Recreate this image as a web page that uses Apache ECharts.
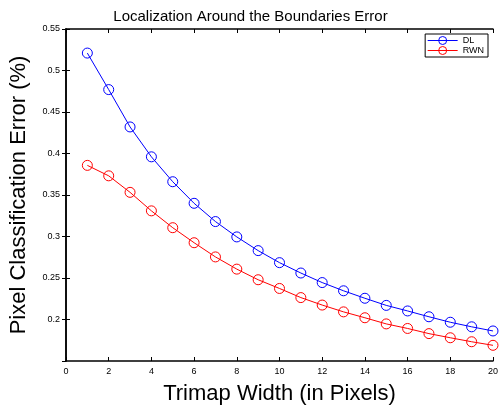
<!DOCTYPE html>
<html>
<head>
<meta charset="utf-8">
<script src="https://cdn.jsdelivr.net/npm/echarts@6/dist/echarts.min.js"></script>
<style>html,body{margin:0;padding:0;background:#fff}#c{width:501px;height:410px}</style>
</head>
<body>
<div id="c"></div>
<script>
var trimapWidths = [1,2,3,4,5,6,7,8,9,10,11,12,13,14,15,16,17,18,19,20];
var dlValues = [0.521,0.477,0.432,0.396,0.366,0.340,0.318,0.2995,0.283,0.2685,0.256,0.2445,0.2346,0.2256,0.217,0.2103,0.2033,0.1967,0.1912,0.1862];
var rwnValues = [0.3857,0.3731,0.3532,0.3309,0.3106,0.2925,0.2754,0.2607,0.2479,0.2374,0.2264,0.2174,0.2092,0.2021,0.1947,0.1892,0.183,0.178,0.1732,0.1689];
var seriesNames = ['DL','RWN'];
var titleText = 'Localization Around the Boundaries Error';
var xTitle = 'Trimap Width (in Pixels)';
var yTitle = 'Pixel Classification Error (%)';

function pairs(xs, ys){ return xs.map(function(x,i){ return [x, ys[i]]; }); }

var font = 'Liberation Sans, Arial, Helvetica, sans-serif';
var chart = echarts.init(document.getElementById('c'));
chart.setOption({
  animation: false,
  backgroundColor: '#fff',
  title: { text: titleText, left: 'center', top: 4, textStyle: { fontFamily: font, fontSize: 15, fontWeight: 'normal', color: '#000' } },
  grid: { left: 62, right: 5, top: 29, bottom: 39 },
  legend: {
    data: seriesNames, orient: 'vertical', right: 13, top: 34,
    borderColor: '#000', borderWidth: 1, padding: [2, 4, 2, 2], itemGap: 1,
    itemWidth: 30, itemHeight: 10,
    lineStyle: { width: 1 }, itemStyle: { borderWidth: 1 },
    textStyle: { fontFamily: font, fontSize: 9, color: '#000' }
  },
  xAxis: [{
    type: 'value', min: 0, max: 20, interval: 2,
    name: xTitle, nameLocation: 'middle', nameGap: 22,
    nameTextStyle: { fontFamily: font, fontSize: 22, color: '#000' },
    axisLine: { show: true, lineStyle: { color: '#000', width: 1.5 } },
    axisTick: { show: true, inside: true, length: 4, lineStyle: { color: '#000' } },
    axisLabel: { fontFamily: font, fontSize: 9, color: '#000', margin: 6 },
    splitLine: { show: false }
  }, {
    type: 'value', min: 0, max: 20, interval: 2, position: 'top',
    axisLine: { show: true, lineStyle: { color: '#000', width: 1.5 } },
    axisTick: { show: true, inside: true, length: 4, lineStyle: { color: '#000' } },
    axisLabel: { show: false }, splitLine: { show: false }
  }],
  yAxis: [{
    type: 'value', min: 0.15, max: 0.55, interval: 0.05,
    name: yTitle, nameLocation: 'middle', nameGap: 36, nameRotate: 90,
    nameTextStyle: { fontFamily: font, fontSize: 22, color: '#000' },
    axisLine: { show: true, lineStyle: { color: '#000', width: 1.5 } },
    axisTick: { show: true, inside: true, length: 4, lineStyle: { color: '#000' } },
    axisLabel: { fontFamily: font, fontSize: 9, color: '#000', margin: 6, showMinLabel: false,
      formatter: function(v){ return String(parseFloat(v.toFixed(2))); } },
    splitLine: { show: false }
  }, {
    type: 'value', min: 0.15, max: 0.55, interval: 0.05, position: 'right',
    axisLine: { show: true, lineStyle: { color: '#000', width: 1.5 } },
    axisTick: { show: true, inside: true, length: 4, lineStyle: { color: '#000' } },
    axisLabel: { show: false }, splitLine: { show: false }
  }],
  series: [{
    name: seriesNames[0], type: 'line', data: pairs(trimapWidths, dlValues),
    symbol: 'circle', symbolSize: 10, color: '#0000ff',
    lineStyle: { width: 1, color: '#0000ff' },
    itemStyle: { color: 'rgba(255,255,255,0)', borderColor: '#0000ff', borderWidth: 1 }
  }, {
    name: seriesNames[1], type: 'line', data: pairs(trimapWidths, rwnValues),
    symbol: 'circle', symbolSize: 10, color: '#ff0000',
    lineStyle: { width: 1, color: '#ff0000' },
    itemStyle: { color: 'rgba(255,255,255,0)', borderColor: '#ff0000', borderWidth: 1 }
  }]
});
</script>
</body>
</html>
